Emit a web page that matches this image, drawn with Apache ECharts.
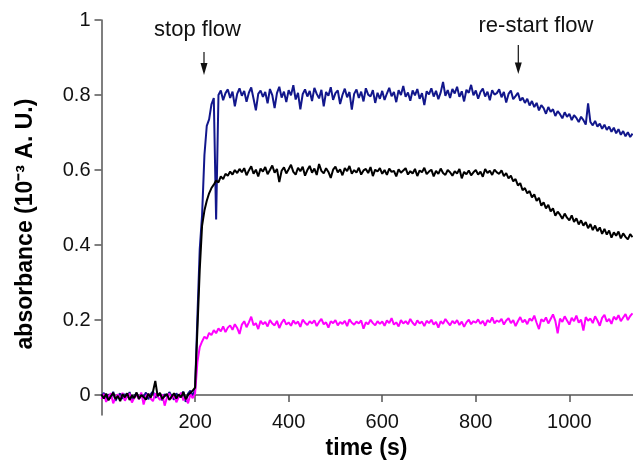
<!DOCTYPE html>
<html>
<head>
<meta charset="utf-8">
<script src="https://cdn.jsdelivr.net/npm/echarts@6/dist/echarts.min.js"></script>
<style>
html,body{margin:0;padding:0;background:#fff;}
#chart{width:633px;height:461px;}
</style>
</head>
<body>
<div id="chart"></div>
<script>
// sampling: one reading every 5 s starting at t = 0
const timeStep = 5;

// absorbance (10^-3 A.U.)
const blue = [
-0.004, 0.006, -0.012, 0.002, -0.008, 0.009, -0.015, -0.001, 0.004, -0.010,
0.003, -0.006, 0.008, -0.013, -0.002, 0.005, -0.009, 0.001, -0.004, 0.007,
-0.011, 0.002, 0.010, -0.007, -0.001, 0.004, -0.014, 0.003, -0.005, 0.008,
-0.003, -0.012, 0.005, -0.006, 0.002, 0.009, -0.018, 0.004, 0.012, -0.002,
0.015, 0.210, 0.390, 0.480, 0.640, 0.718, 0.735, 0.775, 0.792, 0.468,
0.800, 0.812, 0.786, 0.805, 0.815, 0.792, 0.809, 0.770, 0.803, 0.818,
0.798, 0.811, 0.782, 0.806, 0.820, 0.790, 0.759, 0.803, 0.812, 0.795,
0.808, 0.778, 0.816, 0.800, 0.765, 0.805, 0.822, 0.793, 0.809, 0.781,
0.813, 0.799, 0.826, 0.788, 0.806, 0.762, 0.802, 0.815, 0.796, 0.811,
0.784, 0.819, 0.803, 0.791, 0.814, 0.770, 0.808, 0.798, 0.821, 0.787,
0.805, 0.812, 0.776, 0.800, 0.817, 0.794, 0.808, 0.761, 0.803, 0.815,
0.792, 0.809, 0.783, 0.818, 0.801, 0.796, 0.813, 0.779, 0.806, 0.790,
0.811, 0.787, 0.804, 0.819, 0.797, 0.808, 0.781, 0.813, 0.800, 0.824,
0.795, 0.807, 0.785, 0.812, 0.799, 0.816, 0.790, 0.805, 0.773, 0.810,
0.802, 0.818, 0.796, 0.811, 0.789, 0.807, 0.835, 0.798, 0.813, 0.792,
0.816, 0.804, 0.822, 0.795, 0.810, 0.783, 0.814, 0.806, 0.827, 0.799,
0.812, 0.790, 0.808, 0.817, 0.796, 0.809, 0.786, 0.813, 0.801, 0.805,
0.815, 0.794, 0.808, 0.780, 0.803, 0.812, 0.789,
0.797, 0.806, 0.785, 0.793, 0.779, 0.790, 0.772, 0.784, 0.768, 0.779,
0.759, 0.773, 0.765, 0.750, 0.768, 0.755, 0.762, 0.744, 0.757, 0.749,
0.738, 0.754, 0.742, 0.750, 0.733, 0.746, 0.739, 0.728, 0.742, 0.733,
0.721, 0.778, 0.728, 0.719, 0.731, 0.716, 0.724, 0.710, 0.721, 0.707,
0.716, 0.702, 0.713, 0.698, 0.709, 0.694, 0.704, 0.690, 0.701, 0.688,
0.697
];

const black = [
0.002, -0.009, 0.004, -0.014, -0.003, 0.006, -0.011, -0.002, -0.016, 0.003,
-0.006, 0.005, -0.013, -0.001, -0.008, 0.007, -0.010, 0.000, -0.005, -0.012,
0.004, -0.007, 0.009, 0.038, -0.003, 0.006, -0.010, -0.002, 0.003, -0.013,
-0.004, 0.005, -0.009, 0.002, -0.006, 0.008, -0.011, 0.001, 0.006, 0.012,
0.020, 0.175, 0.335, 0.452, 0.492, 0.518, 0.538, 0.552, 0.561, 0.572,
0.567, 0.583, 0.576, 0.590, 0.585, 0.596, 0.588, 0.600, 0.592, 0.603,
0.594, 0.605, 0.586, 0.599, 0.610, 0.590, 0.601, 0.583, 0.604, 0.596,
0.608, 0.589, 0.600, 0.612, 0.593, 0.603, 0.568, 0.598, 0.607, 0.591,
0.602, 0.614, 0.595, 0.588, 0.606, 0.597, 0.609, 0.585, 0.600, 0.611,
0.593, 0.604, 0.587, 0.616, 0.598, 0.591, 0.605, 0.595, 0.579, 0.601,
0.609, 0.594, 0.602, 0.586, 0.605, 0.597, 0.611, 0.590, 0.600, 0.593,
0.606, 0.588, 0.599, 0.603, 0.592, 0.608, 0.584, 0.601, 0.596, 0.605,
0.590, 0.600, 0.587, 0.604, 0.595, 0.598, 0.583, 0.602, 0.593, 0.599,
0.605, 0.588, 0.597, 0.591, 0.603, 0.584, 0.599, 0.594, 0.606, 0.589,
0.596, 0.601, 0.583, 0.598, 0.590, 0.604, 0.592, 0.587, 0.600, 0.594,
0.585, 0.597, 0.591, 0.603, 0.578, 0.595, 0.589, 0.599, 0.586, 0.594,
0.600, 0.588, 0.596, 0.582, 0.603, 0.592, 0.598, 0.587, 0.601, 0.594,
0.590, 0.599, 0.584, 0.592, 0.578, 0.585, 0.570, 0.576, 0.559, 0.565,
0.546, 0.552, 0.538, 0.544, 0.527, 0.535, 0.518, 0.526, 0.505, 0.514,
0.498, 0.507, 0.490, 0.498, 0.478, 0.489, 0.481, 0.470, 0.484, 0.473,
0.466, 0.479, 0.462, 0.471, 0.455, 0.466, 0.452, 0.461, 0.445, 0.456,
0.440, 0.452, 0.437, 0.447, 0.430, 0.443, 0.428, 0.439, 0.420, 0.434,
0.425, 0.436, 0.418, 0.431, 0.422, 0.415, 0.429, 0.421
];

const magenta = [
-0.010, 0.003, -0.018, -0.004, 0.005, -0.022, -0.006, 0.002, -0.012, 0.006,
-0.015, -0.003, 0.004, -0.020, -0.007, 0.001, -0.011, 0.007, -0.025, -0.002,
0.003, -0.009, -0.016, 0.005, -0.004, -0.013, 0.002, -0.028, -0.006, 0.004,
-0.010, 0.001, -0.019, -0.005, 0.006, -0.014, -0.003, -0.022, 0.002, -0.008,
0.004, 0.088, 0.128, 0.143, 0.156, 0.150, 0.166, 0.160, 0.173, 0.165,
0.178, 0.170, 0.183, 0.168, 0.180, 0.186, 0.174, 0.189, 0.179, 0.163,
0.188, 0.197, 0.181, 0.194, 0.209, 0.186, 0.192, 0.176, 0.198, 0.189,
0.195, 0.183, 0.200, 0.191, 0.186, 0.198, 0.179, 0.193, 0.202, 0.188,
0.194, 0.185, 0.199, 0.190, 0.196, 0.182, 0.201, 0.193, 0.187, 0.197,
0.191, 0.199, 0.184, 0.195, 0.203, 0.189, 0.194, 0.180, 0.197, 0.192,
0.200, 0.186, 0.195, 0.190, 0.198, 0.184, 0.202, 0.193, 0.188, 0.196,
0.191, 0.199, 0.177, 0.194, 0.189, 0.201, 0.192, 0.186, 0.197, 0.190,
0.196, 0.185, 0.199, 0.192, 0.205, 0.188, 0.194, 0.183, 0.200, 0.191,
0.197, 0.189, 0.203, 0.193, 0.186, 0.199, 0.191, 0.196, 0.184, 0.198,
0.192, 0.201, 0.188, 0.195, 0.180, 0.197, 0.190, 0.203, 0.194, 0.186,
0.198, 0.191, 0.200, 0.187, 0.196, 0.182, 0.194, 0.201, 0.189, 0.197,
0.193, 0.202, 0.190, 0.198, 0.185, 0.200, 0.194, 0.207, 0.191, 0.199,
0.195, 0.203, 0.188, 0.199, 0.205, 0.192, 0.200, 0.184, 0.197, 0.208,
0.194, 0.201, 0.189, 0.204, 0.198, 0.212, 0.193, 0.176, 0.202, 0.196,
0.207, 0.191, 0.203, 0.215, 0.198, 0.165, 0.204, 0.195, 0.210, 0.199,
0.188, 0.206, 0.197, 0.212, 0.193, 0.201, 0.172, 0.208, 0.198, 0.204,
0.192, 0.210, 0.199, 0.185, 0.206, 0.214, 0.196, 0.203, 0.190, 0.209,
0.201, 0.213, 0.197, 0.207, 0.216, 0.200, 0.211, 0.218
];

const xTickValues = [200, 400, 600, 800, 1000];
const yTickValues = [0, 0.2, 0.4, 0.6, 0.8, 1];
const xTitle = 'time (s)';
const yTitle = 'absorbance (10\u207B\u00B3 A. U.)';
const note1 = 'stop flow';
const note2 = 're-start flow';

const times = blue.map((_, i) => i * timeStep);
const pairs = arr => arr.map((v, i) => [times[i], v]);

const chart = echarts.init(document.getElementById('chart'), null, {renderer: 'canvas'});
const FONT = 'Liberation Sans, Arial, Helvetica, sans-serif';
const axisColor = '#555';

chart.setOption({
  animation: false,
  backgroundColor: '#fff',
  grid: {left: 101.5, top: 20, right: 0, bottom: 46, containLabel: false},
  xAxis: {
    type: 'value',
    min: 0, max: 1136,
    axisLine: {show: true, onZero: true, lineStyle: {color: axisColor, width: 1.5}},
    axisTick: {show: true, length: 7, inside: false, customValues: xTickValues, lineStyle: {color: axisColor, width: 1.5}},
    axisLabel: {customValues: xTickValues, margin: -2.5, fontSize: 20, color: '#111', fontFamily: FONT,
      formatter: v => String(v)},
    splitLine: {show: false}
  },
  yAxis: {
    type: 'value',
    min: -0.053, max: 1,
    axisLine: {show: true, onZero: false, lineStyle: {color: axisColor, width: 1.5}},
    axisTick: {show: true, length: 7, customValues: yTickValues, lineStyle: {color: axisColor, width: 1.5}},
    axisLabel: {customValues: yTickValues, margin: 11, fontSize: 20, color: '#111', fontFamily: FONT,
      formatter: v => String(Math.round(v * 10) / 10)},
    splitLine: {show: false}
  },
  series: [
    {type: 'line', data: pairs(blue), showSymbol: false, symbol: 'none', lineStyle: {color: '#12178c', width: 2}, z: 2},
    {type: 'line', data: pairs(magenta), showSymbol: false, symbol: 'none', lineStyle: {color: '#ff00ff', width: 2}, z: 3},
    {type: 'line', data: pairs(black), showSymbol: false, symbol: 'none', lineStyle: {color: '#000', width: 2}, z: 4}
  ],
  graphic: [
    {type: 'text', x: 26, y: 224, rotation: Math.PI / 2,
      style: {text: yTitle, x: 0, y: 0, fill: '#000', font: 'bold 23px ' + FONT,
        textAlign: 'center', textVerticalAlign: 'middle', align: 'center', verticalAlign: 'middle'}},
    {type: 'text', x: 366.5, y: 449,
      style: {text: xTitle, x: 0, y: 0, fill: '#000', font: 'bold 23px ' + FONT,
        textAlign: 'center', textVerticalAlign: 'middle', align: 'center', verticalAlign: 'middle'}},
    {type: 'text', x: 197.5, y: 30,
      style: {text: note1, x: 0, y: 0, fill: '#111', font: '22px ' + FONT,
        textAlign: 'center', textVerticalAlign: 'middle', align: 'center', verticalAlign: 'middle'}},
    {type: 'text', x: 536, y: 25.5,
      style: {text: note2, x: 0, y: 0, fill: '#111', font: '22px ' + FONT,
        textAlign: 'center', textVerticalAlign: 'middle', align: 'center', verticalAlign: 'middle'}},
    {type: 'line', shape: {x1: 204, y1: 52, x2: 204, y2: 66}, style: {stroke: '#111', lineWidth: 1.2}},
    {type: 'polygon', shape: {points: [[200.5, 63], [207.5, 63], [204, 75]]}, style: {fill: '#111'}},
    {type: 'line', shape: {x1: 518.3, y1: 45, x2: 518.3, y2: 65}, style: {stroke: '#111', lineWidth: 1.2}},
    {type: 'polygon', shape: {points: [[514.8, 62.5], [521.8, 62.5], [518.3, 74]]}, style: {fill: '#111'}}
  ]
});
</script>
</body>
</html>
